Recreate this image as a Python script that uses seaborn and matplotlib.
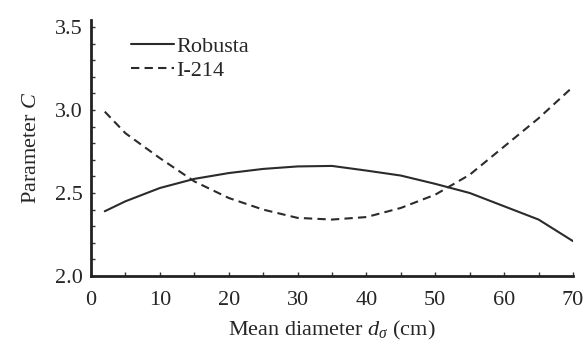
import numpy as np
import pandas as pd
import matplotlib
matplotlib.use("Agg")
import matplotlib.pyplot as plt
import seaborn as sns
from matplotlib.ticker import MultipleLocator, FormatStrFormatter
from matplotlib.lines import Line2D

diameter = [2, 5, 10, 15, 20, 25, 30, 35, 40, 45, 50, 55, 60, 65, 70]
robusta = [2.39, 2.45, 2.53, 2.585, 2.62, 2.645, 2.66, 2.663, 2.635, 2.605, 2.555, 2.50, 2.42, 2.34, 2.21]
i214 = [2.99, 2.86, 2.71, 2.57, 2.47, 2.40, 2.35, 2.34, 2.355, 2.41, 2.49, 2.61, 2.78, 2.95, 3.14]
series_names = ["Robusta", "I-214"]

df = pd.DataFrame({
    "d": diameter * 2,
    "C": robusta + i214,
    "variety": [series_names[0]] * len(diameter) + [series_names[1]] * len(diameter),
})

sns.set_style("ticks")
plt.rcParams["font.family"] = ["Liberation Serif", "DejaVu Serif"]
plt.rcParams["mathtext.fontset"] = "custom"
plt.rcParams["mathtext.rm"] = "Liberation Serif"
plt.rcParams["mathtext.it"] = "Liberation Serif:italic"

LINE = "#2b2b2b"
DASH = (4, 2.5)
LW = 1.5

fig = plt.figure(figsize=(5.86, 3.47), dpi=100)
ax = fig.add_axes([91 / 586, 1 - 276 / 347, 482 / 586, 256 / 347])

sns.lineplot(data=df, x="d", y="C", style="variety", color=LINE,
             dashes={"Robusta": "", "I-214": DASH}, linewidth=LW,
             ax=ax, legend=False)

ax.set_xlim(0, 70)
ax.set_ylim(2.0, 3.542)
ax.xaxis.set_major_locator(MultipleLocator(10))
ax.xaxis.set_minor_locator(MultipleLocator(5))
ax.yaxis.set_major_locator(MultipleLocator(0.5))
ax.yaxis.set_minor_locator(MultipleLocator(0.1))
ax.yaxis.set_major_formatter(FormatStrFormatter("%.1f"))
ax.tick_params(which="both", direction="in", length=3, width=1, color="#333333",
               labelsize=16)
ax.tick_params(axis="y", which="major", pad=6)
ax.tick_params(axis="x", which="major", pad=11)

for s in ["top", "right"]:
    ax.spines[s].set_visible(False)
for s in ["left", "bottom"]:
    ax.spines[s].set_linewidth(2)
    ax.spines[s].set_color("#222222")

ax.set_xlabel(r"Mean diameter $d_\sigma$ (cm)", fontsize=16, labelpad=6)
ax.set_ylabel(r"Parameter $C$", fontsize=16, labelpad=10)

handles = [Line2D([], [], color=LINE, lw=LW, ls="-"),
           Line2D([], [], color=LINE, lw=LW, ls=(0, DASH))]
ax.legend(handles, series_names, loc="upper left", bbox_to_anchor=(40 / 482, 0.935),
          frameon=False, fontsize=16, handlelength=1.95, handletextpad=0.1,
          labelspacing=0.15, borderaxespad=0, borderpad=0)

fig.savefig("out.png", dpi=100)
